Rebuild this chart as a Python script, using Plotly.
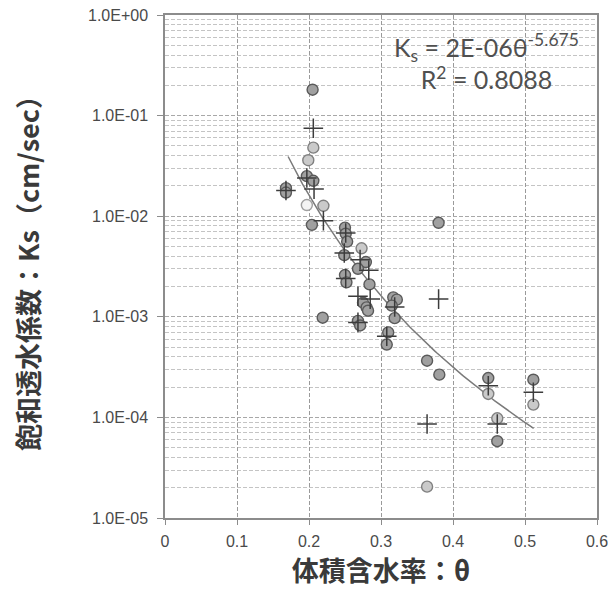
import numpy as np
import plotly.graph_objects as go

# ---- data ----
dark_theta = [0.205, 0.197, 0.206, 0.168, 0.168, 0.204, 0.250, 0.251, 0.253, 0.249,
              0.279, 0.268, 0.250, 0.252, 0.284, 0.275, 0.280, 0.282, 0.219, 0.268,
              0.271, 0.317, 0.322, 0.315, 0.319, 0.310, 0.308, 0.380, 0.364, 0.381,
              0.449, 0.4615, 0.5116]
dark_ks = [0.181, 0.025, 0.0225, 0.019, 0.0172, 0.0082, 0.0077, 0.0067, 0.0056, 0.0041,
           0.0035, 0.0030, 0.0026, 0.0022, 0.0021, 0.00138, 0.00124, 0.00115, 0.00098, 0.00091,
           0.00082, 0.00156, 0.00148, 0.00129, 0.00097, 0.00070, 0.00053, 0.0086, 0.000366, 0.000266,
           0.000246, 5.8e-5, 0.000237]

light_theta = [0.206, 0.199, 0.220, 0.273, 0.364, 0.449, 0.4615, 0.5116]
light_ks = [0.048, 0.036, 0.0127, 0.0048, 2.05e-5, 0.000171, 9.8e-5, 0.000134]

open_theta = [0.197]
open_ks = [0.0129]

plus_theta = [0.206, 0.197, 0.207, 0.168, 0.220, 0.251, 0.249, 0.271, 0.283, 0.251,
              0.268, 0.285, 0.319, 0.268, 0.308, 0.380, 0.364, 0.449, 0.4615, 0.5116]
plus_ks = [0.0748, 0.024, 0.0186, 0.018, 0.009, 0.0068, 0.0043, 0.0037, 0.0029, 0.0024,
           0.0016, 0.0015, 0.00125, 0.00088, 0.00064, 0.0015, 8.6e-5, 0.000206, 8.6e-5, 0.000178]

# power-law trend  Ks = a * theta^b
trend_a = 1.74e-6
trend_b = -5.675
trend_range = [0.171, 0.512]

ytick_vals = [1e-5, 1e-4, 1e-3, 1e-2, 1e-1, 1e0]
ytick_text = ["1.0E-05", "1.0E-04", "1.0E-03", "1.0E-02", "1.0E-01", "1.0E+00"]
xtick_vals = [0, 0.1, 0.2, 0.3, 0.4, 0.5, 0.6]
xtick_text = ["0", "0.1", "0.2", "0.3", "0.4", "0.5", "0.6"]

x_title = "体積含水率：θ"
y_title = "飽和透水係数：Ks（cm/sec）"
eq_line1 = "K<sub>s</sub> = 2E-06θ<sup>-5.675</sup>"
eq_line2 = "R<sup>2</sup> = 0.8088"

fig = go.Figure()

tx = np.linspace(trend_range[0], trend_range[1], 120)
fig.add_trace(go.Scatter(x=tx, y=trend_a * tx ** trend_b, mode="lines",
                         line=dict(color="#7a7a7a", width=1.5), hoverinfo="skip"))

fig.add_trace(go.Scatter(x=dark_theta, y=dark_ks, mode="markers",
                         marker=dict(symbol="circle", size=11, color="#a0a0a0",
                                     line=dict(color="#5a5a5a", width=1.4))))
fig.add_trace(go.Scatter(x=light_theta, y=light_ks, mode="markers",
                         marker=dict(symbol="circle", size=11, color="#cacaca",
                                     line=dict(color="#808080", width=1.4))))
fig.add_trace(go.Scatter(x=open_theta, y=open_ks, mode="markers",
                         marker=dict(symbol="circle", size=11, color="#f4f4f4",
                                     line=dict(color="#a0a0a0", width=1.4))))
fig.add_trace(go.Scatter(x=plus_theta, y=plus_ks, mode="markers",
                         marker=dict(symbol="cross-thin", size=14,
                                     line=dict(color="#3c3c3c", width=1.5))))

# the page body adds an 8px offset; the figure is sized to fill the rest
fig.update_layout(
    width=608, height=587,
    margin=dict(l=157, r=19, t=7, b=77),
    paper_bgcolor="white", plot_bgcolor="white",
    showlegend=False,
    font=dict(family="Liberation Sans", color="#4a4a4a", size=16),
)

fig.update_xaxes(
    range=[0, 0.6], tickvals=xtick_vals, ticktext=xtick_text,
    automargin="bottom", ticklabeloverflow="allow",
    showgrid=True, gridcolor="#9a9a9a", griddash="4px,2px", gridwidth=1,
    showline=True, linecolor="#8c8c8c", linewidth=1.5, mirror=True,
    ticks="outside", ticklen=5, tickcolor="#8c8c8c",
    tickfont=dict(family="Liberation Sans", size=16, color="#4a4a4a"),
    ticklabelstandoff=3,
    zeroline=False,
    title=dict(text=x_title, standoff=6,
               font=dict(family="Noto Sans CJK JP", size=27, color="#3a3a3a", weight="bold")),
)

fig.update_yaxes(
    type="log", range=[-5, 0], tickvals=ytick_vals, ticktext=ytick_text,
    automargin="left", ticklabeloverflow="allow",
    showgrid=True, gridcolor="#a8a8a8", griddash="4px,2px", gridwidth=1,
    minor=dict(dtick="D1", showgrid=True, gridcolor="#c4c4c4", griddash="4px,2px",
               gridwidth=1, ticks=""),
    showline=True, linecolor="#8c8c8c", linewidth=1.5, mirror=True,
    ticks="outside", ticklen=6, tickcolor="#8c8c8c",
    tickfont=dict(family="Liberation Sans", size=16, color="#4a4a4a"),
    ticklabelstandoff=6,
    zeroline=False,
    title=dict(text=y_title, standoff=44,
               font=dict(family="Noto Sans CJK JP", size=27, color="#3a3a3a", weight="bold")),
)

fig.add_shape(type="rect", xref="paper", yref="paper",
              x0=0.528, x1=0.997, y0=0.837, y1=0.99,
              fillcolor="white", line=dict(width=0), layer="between")

fig.add_annotation(xref="paper", yref="paper", x=0.745, y=0.907,
                   text=eq_line1 + "<br>" + eq_line2, showarrow=False,
                   align="center", xanchor="center", yanchor="middle",
                   font=dict(family="Lato", size=25, color="#505050"))

fig.write_html("out.html")
